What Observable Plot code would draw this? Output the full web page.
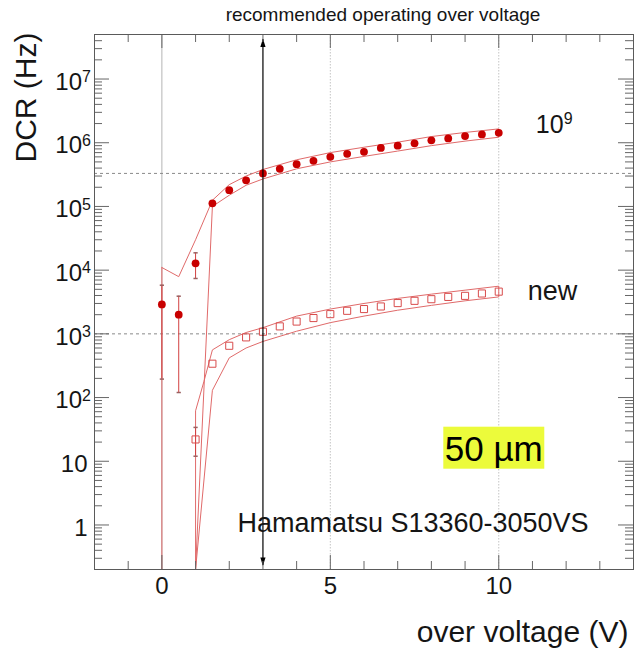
<!DOCTYPE html>
<html>
<head>
<meta charset="utf-8">
<script src="https://cdn.jsdelivr.net/npm/d3@7"></script>
<script src="https://cdn.jsdelivr.net/npm/@observablehq/plot@0.6"></script>
<style>
  html, body { margin: 0; padding: 0; background: #fff; }
</style>
</head>
<body>
<div id="chart"></div>
<script>
// Dark count rate versus over voltage for a Hamamatsu S13360-3050VS (50 µm cells),
// irradiated to 1e9 and new, with model envelopes around each measurement series.

// Irradiated (10^9) sample: measured DCR in Hz
const overVoltage1e9 = [0, 0.5, 1, 1.5, 2, 2.5, 3, 3.5, 4, 4.5, 5, 5.5, 6, 6.5, 7, 7.5, 8, 8.5, 9, 9.5, 10];
const dcr1e9 = [2900, 2000, 12800, 1.12e5, 1.8e5, 2.57e5, 3.3e5, 3.9e5, 4.6e5, 5.2e5, 6.0e5, 6.7e5, 7.2e5, 8.3e5, 9.0e5, 9.8e5, 1.09e6, 1.17e6, 1.27e6, 1.35e6, 1.43e6];
const errX1e9 = [0, 0.5, 1];
const errLo1e9 = [195, 120, 7400];
const errHi1e9 = [5800, 3900, 18700];

// New sample: measured DCR in Hz
const overVoltageNew = [1, 1.5, 2, 2.5, 3, 3.5, 4, 4.5, 5, 5.5, 6, 6.5, 7, 7.5, 8, 8.5, 9, 9.5, 10];
const dcrNew = [22, 340, 650, 880, 1080, 1310, 1560, 1770, 2040, 2300, 2450, 2690, 3040, 3300, 3500, 3800, 3950, 4300, 4600];
const errXNew = [1];
const errLoNew = [12];
const errHiNew = [34];

// Model envelopes: [over voltage, DCR] along the upper and lower edges
const band1e9Upper = [[0, 1.1e4], [0.5, 7.9e3], [1, 3.0e4], [1.5, 1.25e5], [2, 2.2e5], [2.5, 3.0e5], [3, 3.8e5], [4, 5.4e5], [5, 7.0e5], [6, 8.5e5], [7, 1.02e6], [8, 1.25e6], [9, 1.45e6], [10, 1.65e6]];
const band1e9Lower = [[0, 0.2], [0.5, 0.2], [1, 0.2], [1.5, 1.0e5], [2, 1.5e5], [2.5, 2.15e5], [3, 2.7e5], [4, 3.9e5], [5, 5.0e5], [6, 6.1e5], [7, 7.4e5], [8, 9.0e5], [9, 1.06e6], [10, 1.22e6]];
const bandNewUpper = [[1, 0.2], [1, 62], [1.25, 180], [1.5, 560], [2, 810], [2.5, 1050], [3, 1250], [4, 1900], [5, 2450], [6, 3000], [7, 3600], [8, 4200], [9, 4850], [10, 5600]];
const bandNewLower = [[1, 0.2], [1.5, 130], [2, 420], [2.5, 600], [3, 760], [4, 1100], [5, 1500], [6, 1900], [7, 2350], [8, 2800], [9, 3300], [10, 3800]];

// Reference lines
const referenceLevels = [3.3e5, 1e3];
const recommendedOverVoltage = [3];
const gridX = [0, 5, 10];

// Axis ticks and labels
const xMajorTicks = [0, 5, 10];
const xMinorTicks = [-1, 1, 2, 3, 4, 6, 7, 8, 9, 11, 12, 13];
const yTickValues = [1, 10, 100, 1e3, 1e4, 1e5, 1e6, 1e7];
const yTickBases = ["1", "10", "10", "10", "10", "10", "10", "10"];
const yTickExponents = ["", "", "2", "3", "4", "5", "6", "7"];

const yDomain = [0.2, 5e7];
const yMinorTicks = [];
for (let e = -1; e <= 7; e++) {
  for (let k = 2; k <= 9; k++) {
    const v = k * Math.pow(10, e);
    if (v > yDomain[0] && v < yDomain[1]) yMinorTicks.push(v);
  }
}

const points1e9 = overVoltage1e9.map((x, i) => ({x, y: dcr1e9[i]}));
const pointsNew = overVoltageNew.map((x, i) => ({x, y: dcrNew[i]}));
const errors = [
  ...errX1e9.map((x, i) => ({x, lo: errLo1e9[i], hi: errHi1e9[i]})),
  ...errXNew.map((x, i) => ({x, lo: errLoNew[i], hi: errHiNew[i]}))
];
const yTicks = yTickValues.map((value, i) => ({value, base: yTickBases[i], exp: yTickExponents[i]}));

// closed outline: upper edge left to right, lower edge back
function envelope(upper, lower) {
  return [...upper, ...lower.slice().reverse(), upper[0]].map(([x, v]) => ({x, v}));
}

const W = 637, H = 651;
const M = {top: 34, right: 4, bottom: 82, left: 94};
const frameW = W - M.left - M.right;
const frameH = H - M.top - M.bottom;

const font = "'Liberation Sans', Arial, Helvetica, sans-serif";
const red = "#c80000";
const bandRed = "#e06a6a";
const squareRed = "#d84c4c";
const tickColor = "#666";
const ink = "#151515";

const upHead = {draw(c) { c.moveTo(0, -4.5); c.lineTo(2.6, 4); c.lineTo(-2.6, 4); c.closePath(); }};
const downHead = {draw(c) { c.moveTo(0, 4.5); c.lineTo(2.6, -4); c.lineTo(-2.6, -4); c.closePath(); }};
const cap = {draw(c, size) { const w = Math.sqrt(size) / 2; c.moveTo(-w, 0); c.lineTo(w, 0); }};

const svg = Plot.plot({
  width: W,
  height: H,
  marginTop: M.top,
  marginRight: M.right,
  marginBottom: M.bottom,
  marginLeft: M.left,
  x: {type: "linear", domain: [-2, 14], axis: null},
  y: {type: "log", domain: yDomain, axis: null},
  style: {fontFamily: font, background: "white", color: ink},
  marks: [
    // grid
    Plot.ruleX([gridX[0]], {x: d => d, stroke: "#b4b4b4"}),
    Plot.ruleX(gridX.slice(1), {x: d => d, stroke: "#c4c4c4", strokeDasharray: "1.5,1.5"}),
    Plot.ruleY(referenceLevels, {y: d => d, stroke: "#8a8a8a", strokeDasharray: "3,3"}),

    // model envelopes
    Plot.line(envelope(band1e9Upper, band1e9Lower), {x: "x", y: "v", stroke: bandRed, strokeWidth: 1, clip: true}),
    Plot.line(envelope(bandNewUpper, bandNewLower), {x: "x", y: "v", stroke: bandRed, strokeWidth: 1, clip: true}),

    // error bars
    Plot.ruleX(errors, {x: "x", y1: "lo", y2: "hi", stroke: "#d24040", strokeWidth: 1}),
    Plot.dot(errors, {x: "x", y: "lo", symbol: cap, r: 2.4, stroke: "#9a6060", fill: "none"}),
    Plot.dot(errors, {x: "x", y: "hi", symbol: cap, r: 2.4, stroke: "#9a6060", fill: "none"}),

    // measurements
    Plot.dot(points1e9, {x: "x", y: "y", r: 3.9, fill: red, stroke: "none"}),
    Plot.dot(pointsNew, {x: "x", y: "y", symbol: "square", r: 4, stroke: squareRed, strokeWidth: 1, fill: "none"}),

    // recommended operating over voltage
    Plot.ruleX(recommendedOverVoltage, {x: d => d, insetTop: 5, insetBottom: 4, stroke: "black", strokeWidth: 1.2}),
    Plot.dot(recommendedOverVoltage, {x: d => d, frameAnchor: "top", dy: 8.5, symbol: upHead, fill: "black", stroke: "none"}),
    Plot.dot(recommendedOverVoltage, {x: d => d, frameAnchor: "bottom", dy: -8, symbol: downHead, fill: "black", stroke: "none"}),

    // ticks on all four sides, pointing inward
    Plot.tickX(xMinorTicks, {x: d => d, insetTop: frameH - 8, stroke: tickColor}),
    Plot.tickX(xMinorTicks, {x: d => d, insetBottom: frameH - 8, stroke: tickColor}),
    Plot.tickX(xMajorTicks, {x: d => d, insetTop: frameH - 14, stroke: tickColor}),
    Plot.tickX(xMajorTicks, {x: d => d, insetBottom: frameH - 14, stroke: tickColor}),
    Plot.tickY(yMinorTicks, {y: d => d, insetRight: frameW - 8, stroke: tickColor}),
    Plot.tickY(yMinorTicks, {y: d => d, insetLeft: frameW - 8, stroke: tickColor}),
    Plot.tickY(yTickValues, {y: d => d, insetRight: frameW - 15, stroke: tickColor}),
    Plot.tickY(yTickValues, {y: d => d, insetLeft: frameW - 15, stroke: tickColor}),
    Plot.frame({stroke: "#5a5a5a"}),

    // tick labels
    Plot.text(xMajorTicks, {x: d => d, frameAnchor: "bottom", lineAnchor: "middle", dy: 17, text: d => `${d}`, fontSize: 24, fill: ink}),
    Plot.text(yTicks, {filter: d => d.exp, y: "value", frameAnchor: "left", lineAnchor: "middle", text: "base", textAnchor: "end", dx: -12.5, dy: 3, fontSize: 24, fill: ink}),
    Plot.text(yTicks, {filter: d => d.exp, y: "value", frameAnchor: "left", lineAnchor: "middle", text: "exp", textAnchor: "start", dx: -12.5, dy: -2, fontSize: 16, fill: ink}),
    Plot.text(yTicks, {filter: d => !d.exp, y: "value", frameAnchor: "left", lineAnchor: "middle", text: "base", textAnchor: "end", dx: -7, dy: 3, fontSize: 24, fill: ink}),

    // axis titles
    Plot.text(["DCR (Hz)"], {text: d => d, frameAnchor: "top-left", lineAnchor: "middle", rotate: -90, textAnchor: "end", dx: -68, dy: -2, fontSize: 30, fill: ink}),
    Plot.text(["over voltage (V)"], {text: d => d, frameAnchor: "bottom-right", lineAnchor: "middle", textAnchor: "end", dx: -5, dy: 63, fontSize: 30, fill: ink}),
    Plot.text(["recommended operating over voltage"], {text: d => d, frameAnchor: "top", lineAnchor: "middle", dx: 19, dy: -20, fontSize: 19, fill: ink}),

    // series labels
    Plot.text(points1e9, Plot.selectLast({x: "x", y: "y", text: () => "10", textAnchor: "start", dx: 37, dy: -8, fontSize: 25, fill: ink})),
    Plot.text(points1e9, Plot.selectLast({x: "x", y: "y", text: () => "9", textAnchor: "start", dx: 65, dy: -14, fontSize: 16, fill: ink})),
    Plot.text(pointsNew, Plot.selectLast({x: "x", y: "y", text: () => "new", textAnchor: "start", dx: 29, dy: 0, fontSize: 27, fill: ink})),

    // device annotations
    Plot.text(["Hamamatsu S13360-3050VS"], {text: d => d, frameAnchor: "bottom", lineAnchor: "middle", dx: 49, dy: -46, fontSize: 27, fill: ink}),
    Plot.text(["50 µm"], {text: d => d, frameAnchor: "bottom-right", lineAnchor: "middle", textAnchor: "start", dx: -188.7, dy: -120, fontSize: 35, fill: "black"})
  ]
});

document.getElementById("chart").append(svg);

// highlight box behind the pixel-size label
svg.querySelectorAll("text").forEach((t) => {
  if (t.textContent === "50 µm") {
    const b = t.getBBox();
    const rect = document.createElementNS("http://www.w3.org/2000/svg", "rect");
    rect.setAttribute("x", b.x - 1.5);
    rect.setAttribute("y", b.y - 2);
    rect.setAttribute("width", b.width + 3);
    rect.setAttribute("height", b.height + 3);
    rect.setAttribute("fill", "#ecfb3b");
    const tr = t.getAttribute("transform");
    if (tr) rect.setAttribute("transform", tr);
    t.parentNode.insertBefore(rect, t);
  }
});
</script>
</body>
</html>
